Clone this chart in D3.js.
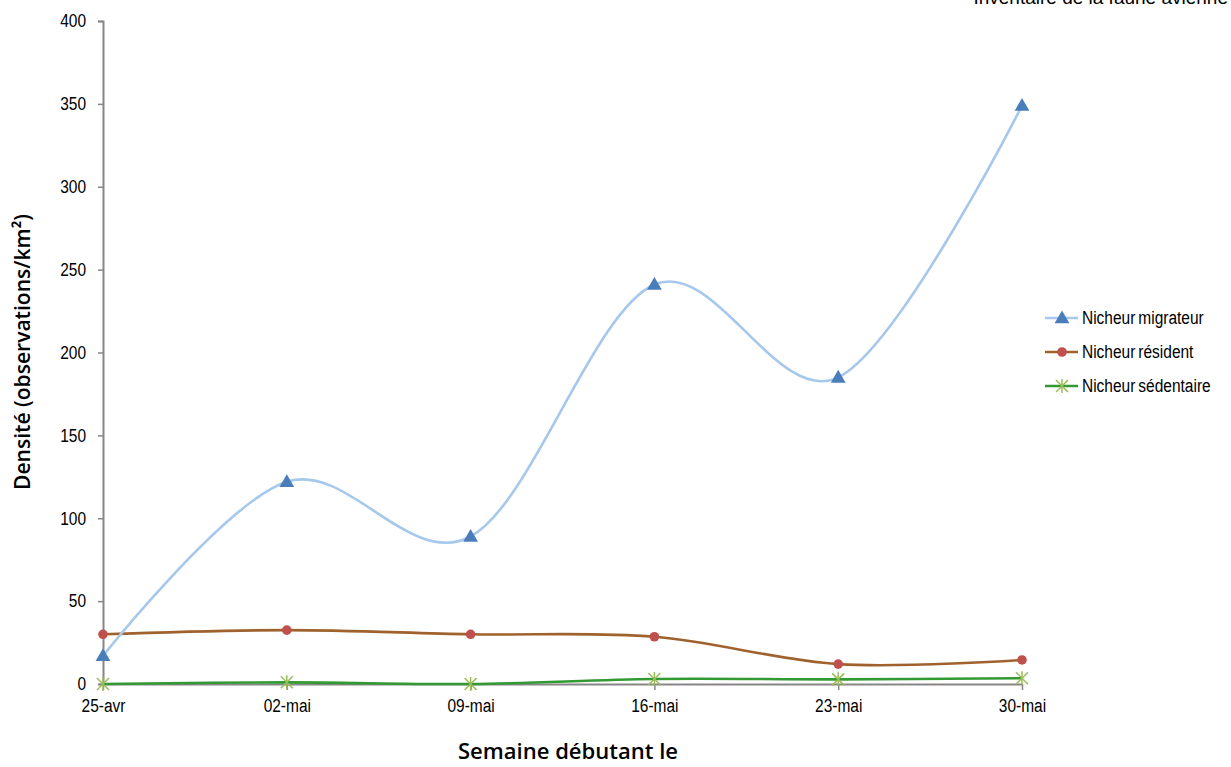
<!DOCTYPE html>
<html>
<head>
<meta charset="utf-8">
<script src="https://cdn.jsdelivr.net/npm/d3@7"></script>
<style>
  body { margin: 0; background: #fff; }
  svg { display: block; }
  text { font-family: "Liberation Sans", Arial, sans-serif; fill: #000; }
</style>
</head>
<body>
<svg id="chart" width="1231" height="767"></svg>
<script>
// Weekly bird density by breeding status
const weeks = ["25-avr", "02-mai", "09-mai", "16-mai", "23-mai", "30-mai"];
const migrateur = [17, 122, 89, 241, 185, 349];
const resident = [30, 32.5, 30, 28.5, 12, 14.5];
const sedentaire = [0, 1, 0, 3, 2.8, 3.5];
const yTicks = [0, 50, 100, 150, 200, 250, 300, 350, 400];
const seriesNames = ["Nicheur migrateur", "Nicheur résident", "Nicheur sédentaire"];

const series = [
  { name: seriesNames[0], values: migrateur, line: "#A6C8EC", marker: "#4A7EBB", shape: "triangle" },
  { name: seriesNames[1], values: resident, line: "#A0622D", marker: "#C0504D", shape: "circle" },
  { name: seriesNames[2], values: sedentaire, line: "#339A33", marker: "#9BBB59", shape: "star" }
];

const svg = d3.select("#chart");
const plotLeft = 103, plotRight = 1022, plotTop = 21, plotBottom = 684;

const x = d3.scalePoint().domain(weeks).range([plotLeft, plotRight]);
const y = d3.scaleLinear().domain([0, 400]).range([plotBottom, plotTop]);

const axisColor = "#868686";

// Narrow lettering: squeeze each text horizontally by a factor
function condense(sel, factor) {
  sel.each(function () {
    const w = this.getComputedTextLength();
    d3.select(this).attr("textLength", w * factor).attr("lengthAdjust", "spacingAndGlyphs");
  });
}

// Y axis
const yAxis = svg.append("g").attr("transform", `translate(${plotLeft},0)`)
  .call(d3.axisLeft(y).tickValues(yTicks).tickSize(5).tickPadding(12).tickFormat(d3.format("d")));
yAxis.select(".domain").attr("stroke", axisColor).attr("stroke-width", 2);
yAxis.selectAll(".tick line").attr("stroke", axisColor).attr("stroke-width", 1.5);
yAxis.selectAll(".tick text").style("font-size", "18px").call(condense, 0.86);

// X axis
const xAxis = svg.append("g").attr("transform", `translate(0,${plotBottom})`)
  .call(d3.axisBottom(x).tickSize(6).tickPadding(9).tickSizeOuter(0));
xAxis.select(".domain").attr("stroke", axisColor).attr("stroke-width", 2);
xAxis.selectAll(".tick line").attr("stroke", axisColor).attr("stroke-width", 1.5);
xAxis.selectAll(".tick text").style("font-size", "18px").call(condense, 0.86);

// Smoothed lines
const line = d3.line()
  .x((d, i) => x(weeks[i]))
  .y(d => y(d))
  .curve(d3.curveCatmullRom.alpha(0));

const triangle = d3.symbol().type(d3.symbolTriangle).size(95);
function drawMarker(g, s, cx, cy) {
  if (s.shape === "triangle") {
    g.append("path").attr("d", triangle()).attr("transform", `translate(${cx},${cy + 1})`).attr("fill", s.marker);
  } else if (s.shape === "circle") {
    g.append("circle").attr("cx", cx).attr("cy", cy).attr("r", 4.8).attr("fill", s.marker);
  } else {
    const r = 6;
    const star = g.append("g").attr("transform", `translate(${cx},${cy})`)
      .attr("stroke", s.marker).attr("stroke-width", 1.5);
    star.append("line").attr("x1", -r).attr("y1", -r).attr("x2", r).attr("y2", r);
    star.append("line").attr("x1", -r).attr("y1", r).attr("x2", r).attr("y2", -r);
    star.append("line").attr("x1", 0).attr("y1", -r - 1).attr("x2", 0).attr("y2", r + 1);
  }
}

const plot = svg.append("g");
series.slice().reverse().forEach(s => {
  plot.append("path").datum(s.values).attr("d", line)
    .attr("fill", "none").attr("stroke", s.line).attr("stroke-width", 2.6);
});
series.slice().reverse().forEach(s => {
  const g = plot.append("g");
  s.values.forEach((v, i) => drawMarker(g, s, x(weeks[i]), y(v)));
});

// Legend
const legend = svg.append("g");
series.forEach((s, i) => {
  const ly = 318 + i * 34;
  const g = legend.append("g");
  g.append("line").attr("x1", 1045).attr("x2", 1078).attr("y1", ly).attr("y2", ly)
    .attr("stroke", s.line).attr("stroke-width", 2.6);
  drawMarker(g, s, 1062, ly);
  g.append("text").attr("x", 1082).attr("y", ly).attr("dy", "0.36em")
    .style("font-size", "18px").style("word-spacing", "-1.5px").text(s.name).call(condense, 0.86);
});

// Axis titles
svg.append("text").attr("transform", "translate(30,352) rotate(-90)")
  .attr("text-anchor", "middle")
  .style("font-family", "'Open Sans', 'Noto Sans', sans-serif")
  .style("font-size", "22px").style("font-weight", "600")
  .text("Densité (observations/km²)")
  .attr("textLength", 276).attr("lengthAdjust", "spacingAndGlyphs");
svg.append("text").attr("x", 568).attr("y", 759)
  .attr("text-anchor", "middle")
  .style("font-family", "'Open Sans', 'Noto Sans', sans-serif")
  .style("font-size", "22px").style("font-weight", "600")
  .text("Semaine débutant le")
  .attr("textLength", 220).attr("lengthAdjust", "spacingAndGlyphs");

// Heading, partly above the page edge
svg.append("text").attr("x", 1228).attr("y", 4)
  .attr("text-anchor", "end").style("font-size", "19px")
  .text("Inventaire de la faune avienne");
</script>
</body>
</html>
